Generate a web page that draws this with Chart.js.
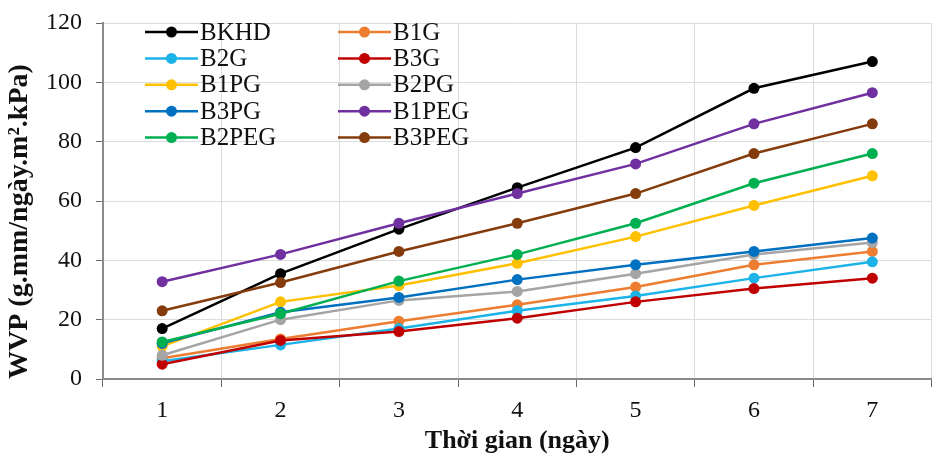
<!DOCTYPE html>
<html>
<head>
<meta charset="utf-8">
<script src="https://cdn.jsdelivr.net/npm/chart.js@4.4.0/dist/chart.umd.min.js"></script>
<style>
  body { margin: 0; background: #fff; }
  #wrap { width: 937px; height: 458px; }
</style>
</head>
<body>
<div id="wrap"><canvas id="wvpChart" width="937" height="458"></canvas></div>
<script>
// Ngay do (truc x)
const days = ['1', '2', '3', '4', '5', '6', '7'];

// Gia tri WVP doc tu hinh, moi mau mot mang
const BKHD  = [17, 35.5, 50.5, 64.5, 78, 98, 107];
const B1G   = [7, 13.5, 19.5, 25, 31, 38.5, 43];
const B2G   = [6, 11.5, 17, 23, 28, 34, 39.5];
const B3G   = [5, 13, 16, 20.5, 26, 30.5, 34];
const B1PG  = [11, 26, 31.5, 39, 48, 58.5, 68.5];
const B2PG  = [8, 20, 26.5, 29.5, 35.5, 42, 46];
const B3PG  = [12, 22.5, 27.5, 33.5, 38.5, 43, 47.5];
const B1PEG = [32.8, 42, 52.5, 62.5, 72.5, 86, 96.5];
const B2PEG = [12.5, 22, 33, 42, 52.5, 66, 76];
const B3PEG = [23, 32.5, 43, 52.5, 62.5, 76, 86];

// Nhan truc y
const yTicks = [0, 20, 40, 60, 80, 100, 120];

const seriesNames = ['BKHD', 'B1G', 'B2G', 'B3G', 'B1PG', 'B2PG', 'B3PG', 'B1PEG', 'B2PEG', 'B3PEG'];
const seriesData = [BKHD, B1G, B2G, B3G, B1PG, B2PG, B3PG, B1PEG, B2PEG, B3PEG];
const seriesColors = ['#000000', '#ED7D31', '#1CB4E8', '#C00000', '#FFC000',
                      '#A5A5A5', '#0070C0', '#7030A0', '#00B050', '#843C0C'];

const serif = "'Liberation Serif', 'Times New Roman', serif";

let datasets = [];
for (let i = 0; i < seriesNames.length; i++) {
    datasets.push({
        label: seriesNames[i],
        data: seriesData[i],
        borderColor: seriesColors[i],
        backgroundColor: seriesColors[i],
        borderWidth: 2.5,
        pointRadius: 5.5,
        pointBorderWidth: 0,
        tension: 0,
        order: 20 - i
    });
}

// Chu giai 2 cot ve ben trong vung do thi
const legendInside = {
    id: 'legendInside',
    afterDatasetsDraw(chart) {
        const ctx = chart.ctx;
        const colX = [145, 338];
        const rowY = 32, rowStep = 26.4;
        ctx.save();
        ctx.font = '25px ' + serif;
        ctx.textBaseline = 'middle';
        ctx.textAlign = 'left';
        for (let i = 0; i < seriesNames.length; i++) {
            let x = colX[i % 2];
            let y = rowY + Math.floor(i / 2) * rowStep;
            ctx.strokeStyle = seriesColors[i];
            ctx.fillStyle = seriesColors[i];
            ctx.lineWidth = 2.5;
            ctx.beginPath();
            ctx.moveTo(x, y);
            ctx.lineTo(x + 53, y);
            ctx.stroke();
            ctx.beginPath();
            ctx.arc(x + 26.5, y, 5.5, 0, Math.PI * 2);
            ctx.fill();
            ctx.fillStyle = '#111';
            ctx.fillText(seriesNames[i], x + 55, y + 1);
        }
        ctx.restore();
    }
};

var wvpChart = new Chart('wvpChart', {
    type: 'line',
    data: {
        labels: days,
        datasets: datasets
    },
    plugins: [legendInside],
    options: {
        responsive: false,
        animation: false,
        layout: {
            padding: { top: 23, left: 0, right: 0, bottom: 0 }
        },
        plugins: {
            legend: { display: false },
            tooltip: { enabled: false }
        },
        scales: {
            x: {
                offset: true,
                grid: {
                    offset: true,
                    color: '#dcdcdc',
                    tickColor: '#6a6a6a',
                    tickLength: 8,
                    lineWidth: 1
                },
                border: { color: '#8a8a8a', width: 2 },
                ticks: {
                    color: '#111',
                    font: { family: serif, size: 24 },
                    padding: 9
                },
                title: {
                    display: true,
                    text: 'Thời gian (ngày)',
                    color: '#111',
                    font: { family: serif, size: 26, weight: 'bold' },
                    padding: { top: 0, bottom: 1 }
                },
                afterFit: function (scale) {
                    scale.height = 79;
                    scale.paddingLeft = 0;
                    scale.paddingRight = 0;
                }
            },
            y: {
                min: 0,
                max: 120,
                afterBuildTicks: function (scale) {
                    scale.ticks = yTicks.map(v => ({ value: v }));
                },
                grid: {
                    color: '#dcdcdc',
                    tickColor: '#6a6a6a',
                    tickLength: 7,
                    lineWidth: 1
                },
                border: { color: '#8a8a8a', width: 2 },
                ticks: {
                    color: '#111',
                    font: { family: serif, size: 24 },
                    padding: 14
                },
                title: {
                    display: true,
                    align: 'start',
                    text: 'WVP (g.mm/ngày.m².kPa)',
                    color: '#111',
                    font: { family: serif, size: 28, weight: 'bold' },
                    padding: { top: 3, bottom: 0 }
                },
                afterFit: function (scale) {
                    scale.width = 103;
                    scale.paddingTop = 0;
                    scale.paddingBottom = 0;
                }
            }
        }
    }
});
</script>
</body>
</html>
